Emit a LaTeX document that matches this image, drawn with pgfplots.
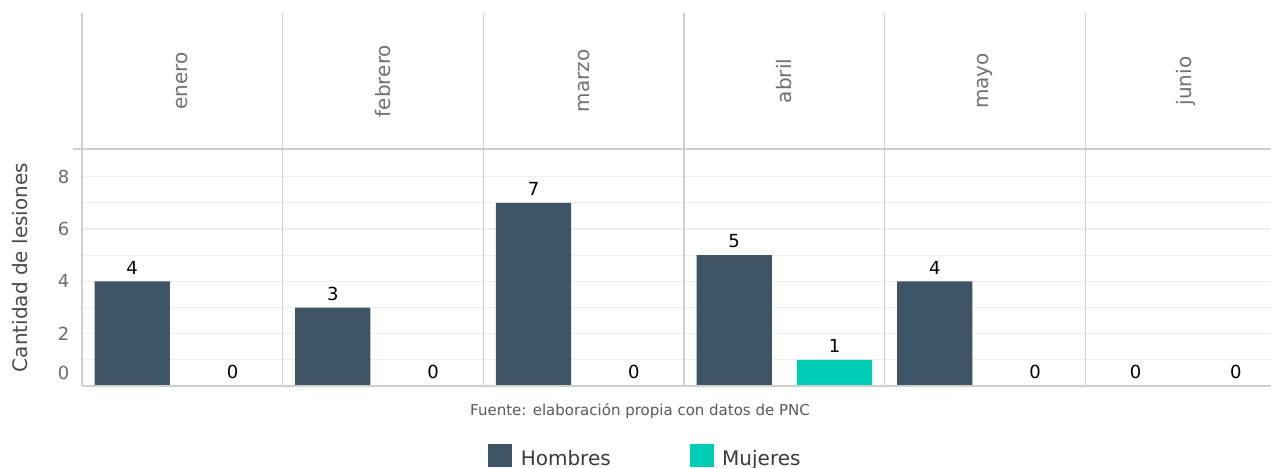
\documentclass[border=0pt]{standalone}
\usepackage{fontspec}
\setmainfont{DejaVu Sans}
\usepackage{pgfplots}
\pgfplotsset{compat=1.18}
\definecolor{hom}{HTML}{3E5467}
\definecolor{muj}{HTML}{00CCB5}
\definecolor{gridc}{HTML}{EEEEEE}
\definecolor{linec}{HTML}{CFCFCF}
\definecolor{ticktxt}{HTML}{6B6B6B}
\definecolor{titletxt}{HTML}{4A4A4A}
\definecolor{striptxt}{HTML}{707070}
\definecolor{captxt}{HTML}{5A5A5A}
\definecolor{legtxt}{HTML}{3A3A3A}
\begin{document}
\begin{tikzpicture}
\begin{axis}[
  at={(82bp,82bp)}, anchor=south west,
  scale only axis, width=1189bp, height=237bp,
  xmin=0.5, xmax=12.35, ymin=0, ymax=9.06,
  clip=false,
  axis line style={draw=none},
  major tick length=0pt, minor tick length=0pt,
  xtick=\empty,
  ytick={0,2,4,6,8}, minor ytick={1,3,5,7},
  yticklabels={\raisebox{26bp}{0},2,4,6,8},
  ymajorgrids, yminorgrids,
  major grid style={gridc, line width=1.2bp},
  minor grid style={gridc, line width=1.2bp},
  yticklabel style={font=\fontsize{18bp}{20bp}\selectfont, text=ticktxt, inner sep=0pt, xshift=-12.5bp},
  ylabel={Cantidad de lesiones},
  every axis y label/.style={at={(axis description cs:-0.0517,0.5)}, rotate=90, anchor=center,
     font=\fontsize{20bp}{24bp}\selectfont, text=titletxt},
  ybar, bar width=0.75, bar shift=0pt,
  nodes near coords,
  every node near coord/.append style={font=\fontsize{18bp}{20bp}\selectfont, text=black, anchor=south, inner sep=0pt, yshift=7bp, /pgf/number format/assume math mode=true},
  legend columns=2,
  legend style={draw=none, fill=none, inner sep=0pt,
     at={(axis description cs:0.3415,-0.2447)}, anchor=north west,
     font=\fontsize{20bp}{24bp}\selectfont, text=legtxt,
     nodes={inner sep=0pt},
     /tikz/every odd column/.append style={column sep=8.5bp},
     /tikz/every even column/.append style={column sep=79bp}},
  legend image code/.code={\fill[#1, draw=none] (0bp,-9bp) rectangle (24bp,14bp);},
]
\addplot[fill=hom, draw=none] coordinates {(1,4) (3,3) (5,7) (7,5) (9,4) (11,0)};
\addlegendentry{Hombres}
\addplot[fill=muj, draw=none] coordinates {(2,0) (4,0) (6,0) (8,1) (10,0) (12,0)};
\addlegendentry{Mujeres}
\pgfplotsinvokeforeach{0.5,2.5,4.5,6.5,8.5,10.5}{
  \draw[linec, line width=1.3bp] (axis cs:#1,0) -- (axis cs:#1,14.26);
}
\draw[linec, line width=1.3bp] (axis cs:0.5,0) -- (axis cs:12.35,0);
\draw[linec, line width=1.3bp] (axis cs:0.41,9.06) -- (axis cs:12.35,9.06);
\node[rotate=90, font=\fontsize{20bp}{24bp}\selectfont, text=striptxt] at (axis cs:1.5,11.66) {enero};
\node[rotate=90, font=\fontsize{20bp}{24bp}\selectfont, text=striptxt] at (axis cs:3.5,11.66) {febrero};
\node[rotate=90, font=\fontsize{20bp}{24bp}\selectfont, text=striptxt] at (axis cs:5.5,11.66) {marzo};
\node[rotate=90, font=\fontsize{20bp}{24bp}\selectfont, text=striptxt] at (axis cs:7.5,11.66) {abril};
\node[rotate=90, font=\fontsize{20bp}{24bp}\selectfont, text=striptxt] at (axis cs:9.5,11.66) {mayo};
\node[rotate=90, font=\fontsize{20bp}{24bp}\selectfont, text=striptxt] at (axis cs:11.5,11.66) {junio};
\end{axis}
\node[font=\fontsize{15bp}{18bp}\selectfont, text=captxt] at (640bp,57bp) {Fuente: elaboración propia con datos de PNC};
\pgfresetboundingbox
\path[use as bounding box] (0,0) rectangle (1271bp,468bp);
\end{tikzpicture}
\end{document}
